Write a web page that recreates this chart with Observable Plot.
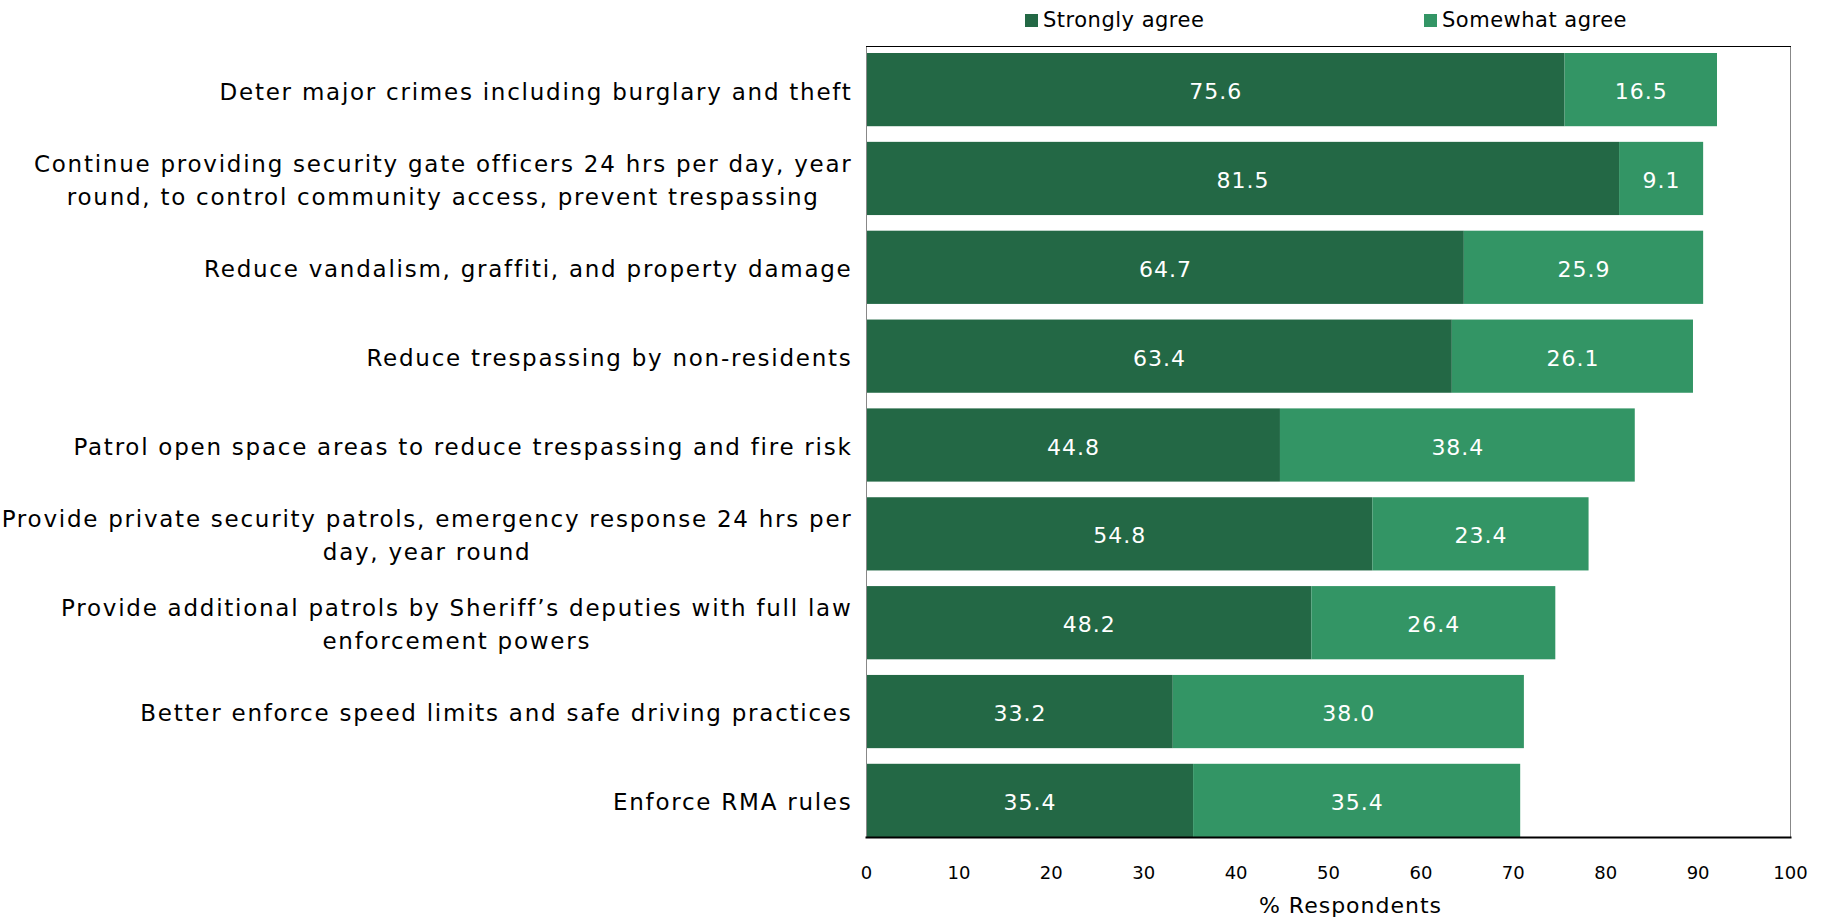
<!DOCTYPE html>
<html>
<head>
<meta charset="utf-8">
<script src="https://cdn.jsdelivr.net/npm/d3@7"></script>
<script src="https://cdn.jsdelivr.net/npm/@observablehq/plot@0.6"></script>
<style>
  html, body { margin: 0; padding: 0; background: #fff; }
  #wrap { position: relative; width: 1823px; height: 920px; font-family: "DejaVu Sans", sans-serif; }
  #legend { position: absolute; top: 8px; left: 0; width: 1823px; height: 26px; font-size: 21px; letter-spacing: 0.5px; color: #000; }
  .item { position: absolute; display: flex; align-items: center; }
  .sw { width: 13px; height: 13px; margin-right: 5px; }
</style>
</head>
<body>
<div id="wrap">
  <div id="legend"></div>
  <div id="chart"></div>
</div>
<script>
const categories = [
  "Deter major crimes including burglary and theft",
  "Continue providing security gate officers 24 hrs per day, year\nround, to control community access, prevent trespassing",
  "Reduce vandalism, graffiti, and property damage",
  "Reduce trespassing by non-residents",
  "Patrol open space areas to reduce trespassing and fire risk",
  "Provide private security patrols, emergency response 24 hrs per\nday, year round",
  "Provide additional patrols by Sheriff’s deputies with full law\nenforcement powers",
  "Better enforce speed limits and safe driving practices",
  "Enforce RMA rules"
];
const seriesNames = ["Strongly agree", "Somewhat agree"];
const stronglyAgree = [75.6, 81.5, 64.7, 63.4, 44.8, 54.8, 48.2, 33.2, 35.4];
const somewhatAgree = [16.5, 9.1, 25.9, 26.1, 38.4, 23.4, 26.4, 38.0, 35.4];
const xTicks = [0, 10, 20, 30, 40, 50, 60, 70, 80, 90, 100];
const xTitle = "% Respondents";
const colors = ["#236845", "#339565"];

const rows = [];
categories.forEach((c, i) => {
  rows.push({cat: c, series: seriesNames[0], value: stronglyAgree[i]});
  rows.push({cat: c, series: seriesNames[1], value: somewhatAgree[i]});
});

const legendPos = [1025, 1424];
const legend = document.getElementById("legend");
seriesNames.forEach((s, i) => {
  const d = document.createElement("div");
  d.className = "item";
  d.style.left = legendPos[i] + "px";
  d.innerHTML = `<span class="sw" style="background:${colors[i]}"></span><span>${s}</span>`;
  legend.appendChild(d);
});

const W = 1823, H = 920;
const plot = Plot.plot({
  width: W,
  height: H,
  marginLeft: 866,
  marginRight: 33,
  marginTop: 46,
  marginBottom: 83,
  style: {fontFamily: "DejaVu Sans, sans-serif", background: "#fff"},
  x: {domain: [0, 100], ticks: xTicks, label: null},
  y: {domain: categories, range: [53, 837], paddingInner: 0.176, paddingOuter: 0, round: false, label: null},
  color: {domain: seriesNames, range: colors},
  marks: [
    Plot.barX(rows, Plot.stackX({x: "value", y: "cat", fill: "series", z: "series", order: seriesNames})),
    Plot.textX(rows, Plot.stackX({x: "value", y: "cat", z: "series", order: seriesNames, text: d => d.value.toFixed(1), fill: "white", fontSize: 22, dy: 2})),
    Plot.frame({stroke: "#888", strokeWidth: 1}),
    Plot.frame({anchor: "bottom", stroke: "#000", strokeWidth: 2}),
    Plot.frame({anchor: "top", stroke: "#000", strokeWidth: 1}),
    Plot.axisY({tickSize: 0, tickPadding: 14, fontSize: 23, lineHeight: 1.42, label: null, lineWidth: 100, dy: -1}),
    Plot.axisX({ticks: xTicks, tickSize: 0, tickPadding: 29, fontSize: 18, label: null}),
    Plot.text([xTitle], {frameAnchor: "bottom", dy: 75, dx: 22, fontSize: 22, fill: "black"})
  ]
});
document.getElementById("chart").appendChild(plot);

// letter spacing to match the original typeface's loose tracking
plot.querySelectorAll('g[aria-label="y-axis tick label"]').forEach(g => g.setAttribute("letter-spacing", "1.75px"));
plot.querySelectorAll('g[aria-label="text"]').forEach(g => g.setAttribute("letter-spacing", "1px"));

// centre the lines of multi-line y labels within their right-aligned block
plot.querySelectorAll('g[aria-label="y-axis tick label"] text').forEach(t => {
  const spans = t.querySelectorAll("tspan");
  if (spans.length > 1) {
    let w = 0;
    spans.forEach(s => { w = Math.max(w, s.getComputedTextLength()); });
    t.setAttribute("text-anchor", "middle");
    spans.forEach(s => s.setAttribute("x", -w / 2));
  }
});
</script>
</body>
</html>
